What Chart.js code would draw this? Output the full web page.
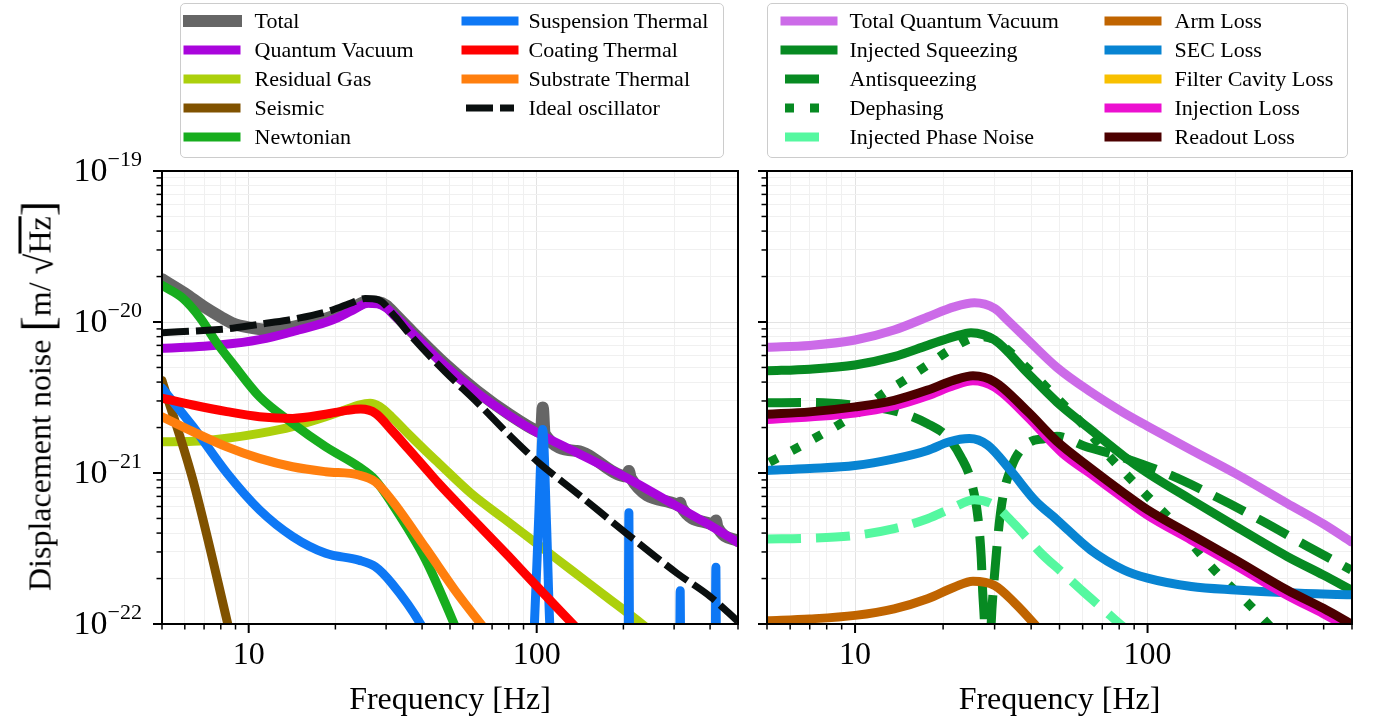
<!DOCTYPE html>
<html><head><meta charset="utf-8">
<script src="https://cdn.jsdelivr.net/npm/chart.js@4.4.0/dist/chart.umd.min.js"></script>
<style>
html,body{margin:0;padding:0;background:#fff;}
#wrap{position:relative;width:1380px;height:726px;overflow:hidden;font-family:'Liberation Serif','Times New Roman',serif;color:#000;}
canvas{position:absolute;top:0;}
.legend{position:absolute;top:3px;height:155px;border:1.5px solid #cccccc;border-radius:5px;background:rgba(255,255,255,0.85);box-sizing:border-box;}
.handle{position:absolute;}
.ltext{position:absolute;font-size:22px;line-height:29px;height:29px;white-space:nowrap;}
.ytitle{position:absolute;left:35px;top:396px;transform:translate(-50%,-50%) rotate(-90deg);white-space:nowrap;font-size:32px;}
.big{font-size:46px;position:relative;top:3px;}
.sq{font-size:38px;position:relative;top:2px;}
.ol{text-decoration:overline;}
.ytick{position:absolute;left:0;width:142px;text-align:right;font-size:34px;line-height:40px;height:40px;white-space:nowrap;}
.ytick .ex{font-size:22px;position:relative;top:-15px;}
</style></head>
<body>
<div id="wrap">
  <canvas id="cl" width="750" height="726" style="left:0;width:750px;height:726px;"></canvas>
  <canvas id="cr" width="630" height="726" style="left:750px;width:630px;height:726px;"></canvas>
  <div class="ytitle">Displacement noise <span class="big">[</span>m/ <span class="sq">√</span><span class="ol">Hz</span><span class="big">]</span></div>
  <div id="legL" class="legend" style="left:180px;width:544px;"></div>
  <div id="legR" class="legend" style="left:767px;width:581px;"></div>
</div>
<script>
// ---------- DATA: left panel ----------
const totalF = [5, 6, 7, 8, 8.8, 10, 11.5, 13, 15, 19.5, 23, 26, 28, 30, 32.3, 36.8, 48, 62, 81, 100, 103.5, 105, 106.5, 138, 206, 209, 212, 305, 312, 315, 318, 400, 414, 419, 424, 500];
const totalV = [1.92e-20, 1.55e-20, 1.26e-20, 1.08e-20, 9.8e-21, 9.2e-21, 8.9e-21, 9.0e-21, 9.5e-21, 1.09e-20, 1.25e-20, 1.37e-20, 1.36e-20, 1.29e-20, 1.12e-20, 8.7e-21, 5.3e-21, 3.5e-21, 2.42e-21, 1.9e-21, 1.86e-21, 2.72e-21, 1.82e-21, 1.4e-21, 9.5e-22, 1.03e-21, 9.3e-22, 6.2e-22, 6.05e-22, 6.35e-22, 5.95e-22, 4.62e-22, 4.5e-22, 4.85e-22, 4.4e-22, 3.55e-22];

const qvF = [5, 7, 8.8, 11.5, 14.9, 19.5, 23, 26, 28, 30, 32.3, 36.8, 48, 62, 81, 100, 138, 205, 305, 400, 500];
const qvV = [6.7e-21, 6.9e-21, 7.2e-21, 7.8e-21, 8.85e-21, 1.03e-20, 1.2e-20, 1.33e-20, 1.32e-20, 1.24e-20, 1.09e-20, 8.5e-21, 5.14e-21, 3.41e-21, 2.38e-21, 1.86e-21, 1.36e-21, 9.3e-22, 6.05e-22, 4.5e-22, 3.46e-22];

const gasF = [5, 6.4, 8.4, 10.9, 14.2, 18.5, 22, 24.1, 26.4, 28.5, 31.3, 36, 41.2, 45.5, 59.3, 77.5, 100.6, 131, 171, 232, 250];
const gasV = [1.61e-21, 1.62e-21, 1.70e-21, 1.83e-21, 2.03e-21, 2.36e-21, 2.65e-21, 2.82e-21, 2.9e-21, 2.75e-21, 2.36e-21, 1.8e-21, 1.4e-21, 1.17e-21, 7.3e-22, 4.94e-22, 3.38e-22, 2.3e-22, 1.56e-22, 1.0e-22, 8.9e-23];

const seisF = [5, 6.4, 8.4, 9];
const seisV = [4.1e-21, 9.0e-22, 1.06e-22, 6e-23];

const newtF = [5, 5.9, 6.8, 7.7, 8.8, 10.9, 14.2, 18.5, 24.1, 27.5, 31.4, 41.2, 50.6, 55];
const newtV = [1.75e-20, 1.44e-20, 1.06e-20, 7.4e-21, 5.3e-21, 3.2e-21, 2.13e-21, 1.49e-21, 1.10e-21, 9.0e-22, 6.3e-22, 2.65e-22, 1.1e-22, 7.5e-23];

const suspF = [5, 6.4, 8.4, 10.9, 14.2, 18.5, 24.1, 27.5, 31.4, 39.5, 45, 70, 95, 98.2, 101.4, 104.9, 108.2, 111, 116, 180, 207.5, 209, 210.5, 260, 312.8, 315, 317.2, 380, 416, 419, 422, 500];
const suspV = [3.65e-21, 2.03e-21, 1.0e-21, 5.7e-22, 3.8e-22, 2.94e-22, 2.65e-22, 2.4e-22, 1.86e-22, 1.0e-22, 6e-23, 2e-23, 4e-23, 1e-22, 4.56e-22, 1.94e-21, 4.56e-22, 1e-22, 4e-23, 2e-23, 3e-23, 5.45e-22, 3e-23, 2e-23, 3e-23, 1.66e-22, 3e-23, 2e-23, 3e-23, 2.38e-22, 3e-23, 2e-23];

const coatF = [5, 6.4, 8.4, 10.9, 14.2, 18.5, 22, 24.5, 27.6, 31.3, 36, 41, 45.5, 60, 80, 100, 132, 145];
const coatV = [3.13e-21, 2.82e-21, 2.55e-21, 2.36e-21, 2.30e-21, 2.45e-21, 2.6e-21, 2.65e-21, 2.48e-21, 1.93e-21, 1.43e-21, 1.08e-21, 8.6e-22, 4.95e-22, 2.8e-22, 1.78e-22, 1.02e-22, 8.5e-23];

const subF = [5, 6.4, 8.4, 10.9, 14.2, 18.5, 24.1, 27.5, 31.4, 41.2, 53.3, 64, 70];
const subV = [2.36e-21, 1.88e-21, 1.49e-21, 1.25e-21, 1.10e-21, 1.02e-21, 9.7e-22, 8.75e-22, 6.6e-22, 3.18e-22, 1.57e-22, 1.0e-22, 8e-23];

const idealF = [5, 7.4, 8.8, 11.5, 14.9, 19.5, 23, 25.4, 28.2, 32.3, 36.8, 48, 62.5, 81.4, 100.6, 138, 205, 307, 400, 500];
const idealV = [8.5e-21, 8.85e-21, 9.1e-21, 9.8e-21, 1.06e-20, 1.2e-20, 1.35e-20, 1.43e-20, 1.4e-20, 1.08e-20, 8.0e-21, 4.7e-21, 2.9e-21, 1.74e-21, 1.19e-21, 7.35e-22, 3.98e-22, 2.17e-22, 1.52e-22, 1.04e-22];

// ---------- DATA: right panel ----------
const tqvF = [5, 7, 10, 13.6, 17.7, 21.8, 25.6, 30, 33, 39, 49, 63.8, 83, 100, 141, 200, 300, 399, 497];
const tqvV = [6.8e-21, 7.0e-21, 7.6e-21, 8.85e-21, 1.08e-20, 1.26e-20, 1.34e-20, 1.23e-20, 1.04e-20, 7.6e-21, 5.0e-21, 3.45e-21, 2.5e-21, 2.04e-21, 1.42e-21, 9.9e-22, 6.3e-22, 4.6e-22, 3.5e-22];

const sqzF = [5, 7, 10, 13.6, 17.7, 21.8, 24.9, 30, 39, 49, 63.8, 83, 100, 141, 200, 300, 399, 497];
const sqzV = [4.75e-21, 4.87e-21, 5.19e-21, 5.89e-21, 7.0e-21, 8.0e-21, 8.5e-21, 7.6e-21, 4.57e-21, 2.95e-21, 1.94e-21, 1.29e-21, 1.0e-21, 6.65e-22, 4.43e-22, 2.8e-22, 2.11e-22, 1.68e-22];

const antiF = [5, 7, 10, 13.6, 17.7, 20.7, 23, 24.9, 26.3, 27, 27.3, 27.7, 28.4, 29.2, 30, 31.6, 34.3, 39, 44.5, 49, 61.4, 80, 118.7, 172, 248, 349, 497];
const antiV = [2.92e-21, 2.93e-21, 2.81e-21, 2.58e-21, 2.12e-21, 1.73e-21, 1.28e-21, 8.9e-22, 5.1e-22, 2.77e-22, 1.66e-22, 1.0e-22, 2e-23, 1.0e-22, 2.15e-22, 5.9e-22, 1.1e-21, 1.57e-21, 1.69e-21, 1.75e-21, 1.5e-21, 1.29e-21, 9.75e-22, 6.93e-22, 4.78e-22, 3.3e-22, 2.28e-22];

const dephF = [5.1, 6.1, 7.4, 8.9, 10.7, 12.5, 14.9, 17.7, 21, 24.9, 27, 30, 37, 48.5, 60, 71, 96, 128, 167, 223, 258, 290];
const dephV = [1.18e-21, 1.41e-21, 1.73e-21, 2.12e-21, 2.67e-21, 3.36e-21, 4.16e-21, 5.19e-21, 6.5e-21, 7.8e-21, 8.0e-21, 7.6e-21, 5.4e-21, 3.2e-21, 2.1e-21, 1.41e-21, 7.6e-22, 4.3e-22, 2.34e-22, 1.34e-22, 1.0e-22, 7.8e-23];

const phaseF = [5, 7, 10, 13.6, 17.7, 21.8, 25.6, 30, 35, 43.4, 51, 60, 71, 82, 90];
const phaseV = [3.66e-22, 3.7e-22, 3.86e-22, 4.28e-22, 4.98e-22, 5.94e-22, 6.65e-22, 6.1e-22, 4.6e-22, 2.92e-22, 2.2e-22, 1.65e-22, 1.24e-22, 9.7e-23, 8.5e-23];

const armF = [5, 7, 10, 13.6, 17.7, 21.8, 25.3, 30, 35, 41, 45];
const armV = [1.05e-22, 1.08e-22, 1.14e-22, 1.26e-22, 1.47e-22, 1.75e-22, 1.92e-22, 1.8e-22, 1.39e-22, 1.0e-22, 8e-23];

const secF = [5, 7, 10, 13.6, 17.7, 21, 24.6, 28.4, 34, 41.2, 49, 63.8, 83, 100, 141, 200, 300, 497];
const secV = [1.04e-21, 1.07e-21, 1.12e-21, 1.24e-21, 1.41e-21, 1.61e-21, 1.69e-21, 1.53e-21, 1.04e-21, 6.59e-22, 4.9e-22, 3.1e-22, 2.28e-22, 2.01e-22, 1.77e-22, 1.68e-22, 1.61e-22, 1.56e-22];

const fcF = [5, 25, 100, 500];
const fcV = [3e-23, 5e-23, 2e-23, 1e-23];

const injF = [5, 10, 13.6, 17.7, 21.8, 25.3, 30, 39, 51, 63.8, 83, 100, 141, 200, 300, 399, 497];
const injV = [2.26e-21, 2.5e-21, 2.78e-21, 3.25e-21, 3.8e-21, 4.08e-21, 3.7e-21, 2.34e-21, 1.36e-21, 9.9e-22, 6.8e-22, 5.25e-22, 3.6e-22, 2.45e-22, 1.55e-22, 1.17e-22, 9.3e-23];

const readF = [5, 7, 10, 13.6, 17.7, 21.8, 25.3, 30, 39, 49, 63.8, 83, 100, 141, 200, 300, 399, 497];
const readV = [2.45e-21, 2.54e-21, 2.74e-21, 3.03e-21, 3.54e-21, 4.12e-21, 4.4e-21, 4.02e-21, 2.54e-21, 1.62e-21, 1.08e-21, 7.37e-22, 5.71e-22, 3.9e-22, 2.66e-22, 1.68e-22, 1.27e-22, 1.0e-22];

// ---------- ticks ----------
const xTickValues = [5, 6, 7, 8, 9, 10, 20, 30, 40, 50, 60, 70, 80, 90, 100, 200, 300, 400, 500];
const xTickLabels = {10: '10', 100: '100'};
const yMajorValues = [1e-22, 1e-21, 1e-20, 1e-19];
const yTickBase = ['10', '10', '10', '10'];
const yTickExp = ['\u221222', '\u221221', '\u221220', '\u221219'];
const yMantissas = [1, 2, 3, 4, 5, 6, 7, 8, 9];

// ---------- series styles ----------
const GREEN = '#078a22';
const leftSeries = [
  {label: 'Total', f: totalF, v: totalV, color: '#666666', w: 12},
  {label: 'Quantum Vacuum', f: qvF, v: qvV, color: '#a905dc', w: 9},
  {label: 'Residual Gas', f: gasF, v: gasV, color: '#acd00c', w: 9},
  {label: 'Seismic', f: seisF, v: seisV, color: '#805200', w: 9},
  {label: 'Newtonian', f: newtF, v: newtV, color: '#17ad1e', w: 9},
  {label: 'Suspension Thermal', f: suspF, v: suspV, color: '#0e78f5', w: 9},
  {label: 'Coating Thermal', f: coatF, v: coatV, color: '#ff0000', w: 9},
  {label: 'Substrate Thermal', f: subF, v: subV, color: '#ff7f0e', w: 9},
  {label: 'Ideal oscillator', f: idealF, v: idealV, color: '#0a0f0f', w: 7, dash: [27, 7]}
];
const rightSeries = [
  {label: 'Total Quantum Vacuum', f: tqvF, v: tqvV, color: '#cc6be8', w: 9},
  {label: 'Injected Squeezing', f: sqzF, v: sqzV, color: GREEN, w: 9},
  {label: 'Antisqueezing', f: antiF, v: antiV, color: GREEN, w: 9, dash: [34, 15]},
  {label: 'Dephasing', f: dephF, v: dephV, color: GREEN, w: 9, dash: [9, 16]},
  {label: 'Injected Phase Noise', f: phaseF, v: phaseV, color: '#55f8a0', w: 9, dash: [34, 15]},
  {label: 'Arm Loss', f: armF, v: armV, color: '#c06400', w: 9},
  {label: 'SEC Loss', f: secF, v: secV, color: '#0884d2', w: 9},
  {label: 'Filter Cavity Loss', f: fcF, v: fcV, color: '#f8c000', w: 9},
  {label: 'Injection Loss', f: injF, v: injV, color: '#ec10d0', w: 9},
  {label: 'Readout Loss', f: readF, v: readV, color: '#4c0000', w: 9}
];

// ---------- chart building ----------
Chart.defaults.font.family = "'Liberation Serif','Times New Roman',serif";
Chart.defaults.color = '#000';

const yTickValues = [];
for (const d of yMajorValues.slice(0, 3)) for (const m of yMantissas) yTickValues.push(m * d);
yTickValues.push(yMajorValues[3]);

function isMajor(v) { const l = Math.log10(v); return Math.abs(l - Math.round(l)) < 1e-6; }

const frameTicks = {
  id: 'frameTicks',
  afterDraw(chart) {
    const {ctx, chartArea: a, scales: {x, y}} = chart;
    ctx.save();
    ctx.strokeStyle = '#000';
    ctx.lineCap = 'butt';
    for (const t of x.ticks) {
      const p = x.getPixelForValue(t.value); const M = isMajor(t.value);
      ctx.lineWidth = M ? 2 : 1.5; const L = M ? 9 : 5.5;
      ctx.beginPath(); ctx.moveTo(p, a.bottom); ctx.lineTo(p, a.bottom + L); ctx.stroke();
    }
    for (const t of y.ticks) {
      const p = y.getPixelForValue(t.value); const M = isMajor(t.value);
      ctx.lineWidth = M ? 2 : 1.5; const L = M ? 9 : 5.5;
      ctx.beginPath(); ctx.moveTo(a.left, p); ctx.lineTo(a.left - L, p); ctx.stroke();
    }
    ctx.lineWidth = 2;
    ctx.strokeRect(a.left, a.top, a.right - a.left, a.bottom - a.top);
    ctx.restore();
  }
};

function makeChart(id, series, yWidth, padRight) {
  const datasets = series.map((s, i) => ({
    label: s.label,
    data: s.f.map((f, k) => ({x: f, y: s.v[k]})),
    borderColor: s.color,
    backgroundColor: s.color,
    borderWidth: s.w,
    borderDash: s.dash || [],
    borderCapStyle: s.dash ? 'butt' : 'round',
    borderJoinStyle: 'round',
    pointRadius: 0,
    fill: false,
    cubicInterpolationMode: 'monotone',
    clip: 0,
    order: -i
  }));
  const gridColor = (c) => (c.tick && isMajor(c.tick.value)) ? '#e3e3e3' : '#f0f0f0';
  return new Chart(document.getElementById(id), {
    type: 'line',
    data: {datasets},
    options: {
      responsive: false, animation: false, devicePixelRatio: 1,
      layout: {padding: {top: 171, right: padRight, left: 0, bottom: 0}},
      plugins: {legend: {display: false}, tooltip: {enabled: false}, title: {display: false}},
      scales: {
        x: {
          type: 'logarithmic', position: 'bottom', min: 5, max: 500,
          afterBuildTicks: (s) => { s.ticks = xTickValues.map(v => ({value: v})); },
          afterFit: (s) => { s.height = 102; },
          grid: {color: gridColor, lineWidth: 1, drawTicks: false},
          border: {display: false},
          ticks: {autoSkip: false, maxRotation: 0, minRotation: 0, padding: 12, font: {size: 32},
                  callback: (v) => xTickLabels[v] || ''},
          title: {display: true, text: 'Frequency [Hz]', font: {size: 32}, padding: {top: 0, bottom: 6}}
        },
        y: {
          type: 'logarithmic', position: 'left', min: 1e-22, max: 1e-19,
          afterBuildTicks: (s) => { s.ticks = yTickValues.map(v => ({value: v})); },
          afterFit: (s) => { s.width = yWidth; },
          grid: {color: gridColor, lineWidth: 1, drawTicks: false},
          border: {display: false},
          ticks: {autoSkip: false, padding: 20, font: {size: 32}, callback: () => ''}
        }
      }
    },
    plugins: [frameTicks]
  });
}

const chartL = makeChart('cl', leftSeries, 162, 8);
const chartR = makeChart('cr', rightSeries, 17, 28);

// y tick labels (HTML, positioned through the left chart's y scale)
const wrap = document.getElementById('wrap');
yMajorValues.forEach((v, i) => {
  const py = chartL.scales.y.getPixelForValue(v);
  const d = document.createElement('div');
  d.className = 'ytick';
  d.style.top = (py - 21) + 'px';
  d.innerHTML = yTickBase[i] + '<span class="ex">' + yTickExp[i] + '</span>';
  wrap.appendChild(d);
});

// ---------- legends (HTML) ----------
function handleSVG(s) {
  const w = 60, h = 18, x0 = 5, x1 = 53;
  const dashed = !!s.dash;
  const da = dashed ? ` stroke-dasharray="${s.dash.join(' ')}"` : '';
  const cap = dashed ? 'butt' : 'square';
  return `<svg width="${w}" height="${h}" xmlns="http://www.w3.org/2000/svg"><line x1="${x0}" y1="9" x2="${x1}" y2="9" stroke="${s.color}" stroke-width="${s.w}" stroke-linecap="${cap}"${da}/></svg>`;
}
function buildLegend(boxId, series, boxLeft, colHandleX, colTextX) {
  const box = document.getElementById(boxId);
  const rowY = [21, 50, 79, 108, 137];
  series.forEach((s, i) => {
    const col = i < 5 ? 0 : 1; const row = i < 5 ? i : i - 5;
    const hx = colHandleX[col] - boxLeft - 1.5, ty = rowY[row] - 3 - 1.5;
    const hd = document.createElement('div');
    hd.className = 'handle';
    hd.style.left = (hx - 1) + 'px'; hd.style.top = (ty - 9) + 'px';
    hd.innerHTML = handleSVG(s);
    box.appendChild(hd);
    const tx = document.createElement('div');
    tx.className = 'ltext';
    tx.style.left = (colTextX[col] - boxLeft - 1.5) + 'px'; tx.style.top = (ty - 14.5) + 'px';
    tx.textContent = s.label;
    box.appendChild(tx);
  });
}
buildLegend('legL', leftSeries, 180, [184, 462], [255, 529]);
buildLegend('legR', rightSeries, 767, [781, 1105], [850, 1175]);
</script>
</body></html>
